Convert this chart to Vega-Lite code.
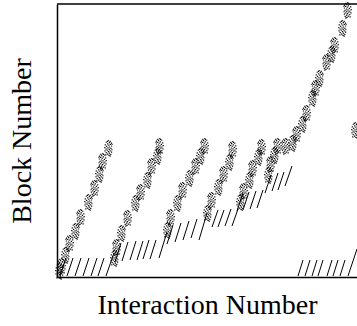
{
  "$schema": "https://vega.github.io/schema/vega-lite/v6.json",
  "width": 300,
  "height": 273,
  "autosize": {"type": "none"},
  "padding": {"left": 57, "top": 4, "right": 0, "bottom": 49},
  "background": "white",
  "config": {"view": {"stroke": null}},
  "datasets": {
    "clustersA": [
      {"t": 2, "b": 6}, {"t": 8, "b": 22}, {"t": 18, "b": 46}, {"t": 31, "b": 75}, {"t": 42, "b": 103}, {"t": 51, "b": 129},
      {"t": 57, "b": 19}, {"t": 64, "b": 44}, {"t": 78, "b": 74}, {"t": 90, "b": 97}, {"t": 100, "b": 121},
      {"t": 110, "b": 47}, {"t": 120, "b": 74}, {"t": 132, "b": 99}, {"t": 143, "b": 121},
      {"t": 150, "b": 64}, {"t": 161, "b": 90}, {"t": 172, "b": 115},
      {"t": 183, "b": 75}, {"t": 192, "b": 97}, {"t": 201, "b": 120},
      {"t": 211, "b": 102}, {"t": 217, "b": 122},
      {"t": 235, "b": 134}, {"t": 245, "b": 153}, {"t": 255, "b": 179}, {"t": 262, "b": 199}, {"t": 274, "b": 223}, {"t": 285, "b": 249},
      {"t": 298, "b": 147}
    ],
    "clustersB": [
      {"t": 5, "b": 11}, {"t": 13, "b": 34}, {"t": 24, "b": 60}, {"t": 38, "b": 89}, {"t": 46, "b": 116},
      {"t": 60, "b": 30}, {"t": 71, "b": 59}, {"t": 84, "b": 85}, {"t": 95, "b": 111}, {"t": 103, "b": 131},
      {"t": 114, "b": 60}, {"t": 126, "b": 87}, {"t": 139, "b": 111}, {"t": 148, "b": 131},
      {"t": 155, "b": 77}, {"t": 167, "b": 103}, {"t": 176, "b": 128},
      {"t": 187, "b": 86}, {"t": 196, "b": 109}, {"t": 205, "b": 130},
      {"t": 214, "b": 113}, {"t": 221, "b": 131},
      {"t": 229, "b": 131}, {"t": 240, "b": 143}, {"t": 250, "b": 164}, {"t": 259, "b": 189}, {"t": 270, "b": 215}, {"t": 278, "b": 232}, {"t": 291, "b": 267}
    ],
    "hatches": [
      {"t": 3, "b": 1, "t2": 9, "b2": 19}, {"t": 10, "b": 1, "t2": 16, "b2": 19}, {"t": 18, "b": 1, "t2": 24, "b2": 19}, {"t": 26, "b": 1, "t2": 32, "b2": 19}, {"t": 34, "b": 1, "t2": 40, "b2": 19}, {"t": 41, "b": 1, "t2": 47, "b2": 19}, {"t": 49, "b": 1, "t2": 57, "b2": 24},
      {"t": 58, "b": 15, "t2": 64, "b2": 34}, {"t": 65, "b": 16, "t2": 71, "b2": 35}, {"t": 73, "b": 17, "t2": 79, "b2": 36}, {"t": 80, "b": 17, "t2": 86, "b2": 36}, {"t": 86, "b": 18, "t2": 92, "b2": 37}, {"t": 93, "b": 18, "t2": 99, "b2": 37}, {"t": 102, "b": 19, "t2": 110, "b2": 45},
      {"t": 110, "b": 33, "t2": 116, "b2": 52}, {"t": 118, "b": 35, "t2": 124, "b2": 54}, {"t": 126, "b": 37, "t2": 132, "b2": 56}, {"t": 134, "b": 39, "t2": 140, "b2": 58}, {"t": 142, "b": 37, "t2": 150, "b2": 64},
      {"t": 155, "b": 50, "t2": 161, "b2": 67}, {"t": 161, "b": 50, "t2": 167, "b2": 67}, {"t": 168, "b": 51, "t2": 174, "b2": 68}, {"t": 175, "b": 51, "t2": 181, "b2": 68},
      {"t": 180, "b": 66, "t2": 186, "b2": 84}, {"t": 186, "b": 67, "t2": 192, "b2": 85}, {"t": 193, "b": 68, "t2": 199, "b2": 86}, {"t": 200, "b": 69, "t2": 206, "b2": 87},
      {"t": 208, "b": 84, "t2": 214, "b2": 102}, {"t": 215, "b": 86, "t2": 221, "b2": 104}, {"t": 221, "b": 87, "t2": 227, "b2": 105}, {"t": 228, "b": 91, "t2": 235, "b2": 111},
      {"t": 241, "b": 1, "t2": 246, "b2": 17}, {"t": 248, "b": 1, "t2": 253, "b2": 17}, {"t": 255, "b": 1, "t2": 260, "b2": 17}, {"t": 261, "b": 1, "t2": 266, "b2": 17}, {"t": 270, "b": 1, "t2": 275, "b2": 17}, {"t": 276, "b": 1, "t2": 281, "b2": 17}, {"t": 283, "b": 1, "t2": 288, "b2": 17}, {"t": 291, "b": 1, "t2": 300, "b2": 28}
    ]
  },
  "layer": [
    {
      "data": {"name": "hatches"},
      "mark": {"type": "rule", "color": "black", "strokeWidth": 1},
      "encoding": {
        "x": {"field": "t", "type": "quantitative", "scale": {"domain": [0, 300], "nice": false, "zero": false},
          "axis": {"title": "Interaction Number", "ticks": false, "labels": false, "grid": false, "domain": true, "domainColor": "black", "domainWidth": 1.5, "titleFont": "Liberation Serif", "titleFontSize": 28, "titleFontWeight": "normal", "titleColor": "black", "titlePadding": 14}},
        "y": {"field": "b", "type": "quantitative", "scale": {"domain": [0, 273], "nice": false, "zero": false},
          "axis": {"title": "Block Number", "ticks": false, "labels": false, "grid": false, "domain": true, "domainColor": "black", "domainWidth": 1.5, "titleFont": "Liberation Serif", "titleFontSize": 28, "titleFontWeight": "normal", "titleColor": "black", "titlePadding": 21}},
        "x2": {"field": "t2"},
        "y2": {"field": "b2"}
      }
    },
    {
      "data": {"name": "clustersA"},
      "mark": {"type": "point", "filled": true, "color": "black", "opacity": 1, "size": 250, "strokeWidth": 0,
        "shape": "M-0.05,-1h0.15v0.15h-0.15zM0.2,-0.92h0.15v0.15h-0.15zM-0.3,-0.8h0.15v0.15h-0.15zM0.1,-0.75h0.15v0.15h-0.15zM0.35,-0.7h0.15v0.15h-0.15zM-0.12,-0.6h0.15v0.15h-0.15zM0.22,-0.52h0.15v0.15h-0.15zM-0.42,-0.48h0.15v0.15h-0.15zM0.02,-0.42h0.15v0.15h-0.15zM0.38,-0.33h0.15v0.15h-0.15zM-0.25,-0.28h0.15v0.15h-0.15zM0.12,-0.2h0.15v0.15h-0.15zM-0.48,-0.12h0.15v0.15h-0.15zM-0.08,-0.08h0.15v0.15h-0.15zM0.3,-0.02h0.15v0.15h-0.15zM-0.32,0.05h0.15v0.15h-0.15zM0.08,0.1h0.15v0.15h-0.15zM0.42,0.15h0.15v0.15h-0.15zM-0.18,0.2h0.15v0.15h-0.15zM-0.45,0.3h0.15v0.15h-0.15zM0.2,0.3h0.15v0.15h-0.15zM-0.02,0.38h0.15v0.15h-0.15zM0.38,0.45h0.15v0.15h-0.15zM-0.3,0.5h0.15v0.15h-0.15zM0.1,0.58h0.15v0.15h-0.15zM-0.12,0.7h0.15v0.15h-0.15zM0.28,0.72h0.15v0.15h-0.15zM-0.35,0.8h0.15v0.15h-0.15zM0.05,0.85h0.15v0.15h-0.15zM0.2,0.95h0.15v0.15h-0.15zM-0.15,-0.9h0.15v0.15h-0.15zM0.45,-0.55h0.15v0.15h-0.15z"},
      "encoding": {
        "x": {"field": "t", "type": "quantitative"},
        "y": {"field": "b", "type": "quantitative"}
      }
    },
    {
      "data": {"name": "clustersB"},
      "mark": {"type": "point", "filled": true, "color": "black", "opacity": 1, "size": 250, "strokeWidth": 0,
        "shape": "M-0.1,-1h0.15v0.15h-0.15zM-0.35,-0.92h0.15v0.15h-0.15zM0.15,-0.8h0.15v0.15h-0.15zM-0.25,-0.75h0.15v0.15h-0.15zM-0.5,-0.7h0.15v0.15h-0.15zM-0.03,-0.6h0.15v0.15h-0.15zM-0.37,-0.52h0.15v0.15h-0.15zM0.27,-0.48h0.15v0.15h-0.15zM-0.17,-0.42h0.15v0.15h-0.15zM-0.53,-0.33h0.15v0.15h-0.15zM0.1,-0.28h0.15v0.15h-0.15zM-0.27,-0.2h0.15v0.15h-0.15zM0.33,-0.12h0.15v0.15h-0.15zM-0.07,-0.08h0.15v0.15h-0.15zM-0.45,-0.02h0.15v0.15h-0.15zM0.17,0.05h0.15v0.15h-0.15zM-0.23,0.1h0.15v0.15h-0.15zM-0.57,0.15h0.15v0.15h-0.15zM0.03,0.2h0.15v0.15h-0.15zM0.3,0.3h0.15v0.15h-0.15zM-0.35,0.3h0.15v0.15h-0.15zM-0.13,0.38h0.15v0.15h-0.15zM-0.53,0.45h0.15v0.15h-0.15zM0.15,0.5h0.15v0.15h-0.15zM-0.25,0.58h0.15v0.15h-0.15zM-0.03,0.7h0.15v0.15h-0.15zM-0.43,0.72h0.15v0.15h-0.15zM0.2,0.8h0.15v0.15h-0.15zM-0.2,0.85h0.15v0.15h-0.15zM-0.35,0.95h0.15v0.15h-0.15zM0,-0.9h0.15v0.15h-0.15zM-0.6,-0.55h0.15v0.15h-0.15z"},
      "encoding": {
        "x": {"field": "t", "type": "quantitative"},
        "y": {"field": "b", "type": "quantitative"}
      }
    },
    {
      "data": {"values": [{}]},
      "mark": {"type": "rule", "color": "black", "strokeWidth": 1.5},
      "encoding": {"y": {"datum": 273, "type": "quantitative"}}
    }
  ]
}
